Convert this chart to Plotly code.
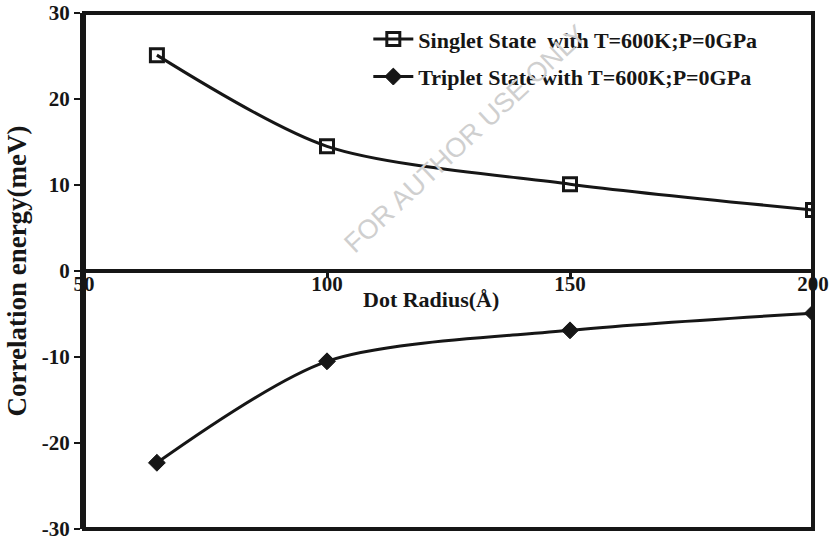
import plotly.graph_objects as go

radius = [65, 100, 150, 200]
singlet = [25.1, 14.5, 10.1, 7.1]
triplet = [-22.3, -10.5, -6.9, -4.9]
x_ticks = [50, 100, 150, 200]
y_ticks = [-30, -20, -10, 0, 10, 20, 30]

FONT = "Liberation Serif"
INK = "#161616"

fig = go.Figure()
fig.add_trace(go.Scatter(
    x=radius, y=singlet, mode="lines+markers", legendgroup="s",
    name="Singlet State  with T=600K;P=0GPa",
    line=dict(color=INK, width=3, shape="spline", smoothing=0.8),
    marker=dict(symbol="square-open", size=13, color=INK, line=dict(width=3, color=INK)),
))
fig.add_trace(go.Scatter(
    x=radius, y=triplet, mode="lines+markers", legendgroup="t",
    name="Triplet State with T=600K;P=0GPa",
    line=dict(color=INK, width=3, shape="spline", smoothing=0.8),
    marker=dict(symbol="diamond", size=13, color=INK, line=dict(width=1, color=INK)),
))

fig.update_layout(
    width=832, height=540,
    margin=dict(l=84, r=19, t=13, b=11),
    plot_bgcolor="white", paper_bgcolor="white",
    font=dict(family=FONT, size=20, color=INK),
    showlegend=True,
    legend=dict(x=0.39, y=0.99, xanchor="left", yanchor="top",
                font=dict(family=FONT, size=22, color=INK, weight="bold"),
                bgcolor="rgba(0,0,0,0)", tracegroupgap=6, itemwidth=40),
    xaxis=dict(
        range=[50, 200], tickvals=x_ticks, ticktext=[str(v) for v in x_ticks],
        anchor="free", position=0.5, showline=True, linecolor=INK, linewidth=4,
        ticks="outside", ticklen=5, tickwidth=3, tickcolor=INK,
        showgrid=False, zeroline=False, automargin=False,
        ticklabelstandoff=-12, ticklabeloverflow="allow",
        tickfont=dict(family=FONT, size=21, color=INK, weight="bold"),
    ),
    yaxis=dict(
        range=[-30, 30], tickvals=y_ticks, ticktext=[str(v) for v in y_ticks],
        showline=True, linecolor=INK, linewidth=4,
        ticks="outside", ticklen=6, tickwidth=2, tickcolor=INK,
        showgrid=False, zeroline=False, automargin=False,
        ticklabeloverflow="allow",
        tickfont=dict(family=FONT, size=21, color=INK, weight="bold"),
        title=dict(text="Correlation energy(meV)", standoff=8,
                   font=dict(family=FONT, size=27, color=INK, weight="bold")),
    ),
    shapes=[dict(type="rect", xref="paper", yref="paper", x0=0, y0=0, x1=1, y1=1,
                 line=dict(color=INK, width=4), layer="above")],
    annotations=[
        dict(text="FOR AUTHOR USE ONLY", xref="paper", yref="paper",
             x=0.523, y=0.755, xanchor="center", yanchor="middle",
             showarrow=False, textangle=-43,
             font=dict(family="Liberation Sans", size=27, color="#cfcfcf")),
        dict(text="Dot Radius(Å)", xref="paper", yref="paper",
             x=0.476, y=0.444, xanchor="center", yanchor="middle", showarrow=False,
             font=dict(family=FONT, size=22, color=INK, weight="bold")),
    ],
)

fig.write_html("out.html")
